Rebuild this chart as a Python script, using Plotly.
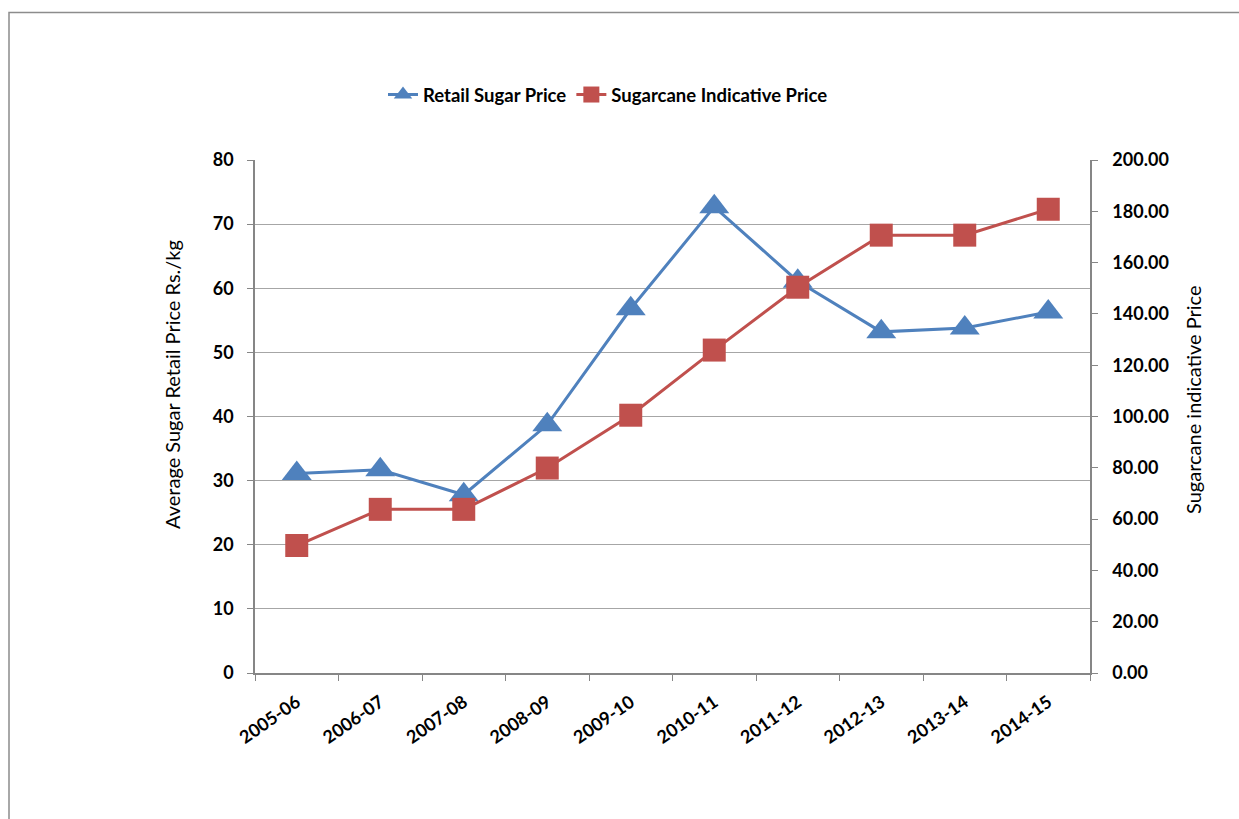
import plotly.graph_objects as go

years = ["2005-06", "2006-07", "2007-08", "2008-09", "2009-10",
         "2010-11", "2011-12", "2012-13", "2013-14", "2014-15"]
retail_sugar_price = [31.1, 31.7, 27.8, 38.7, 56.8, 72.7, 61.1, 53.2, 53.8, 56.3]
sugarcane_indicative_price = [49.7, 63.8, 63.8, 79.9, 100.5, 125.9, 150.4, 170.7, 170.7, 180.8]

left_title = "Average Sugar Retail Price Rs./kg"
right_title = "Sugarcane indicative Price"

W, H = 1239, 819
L, R, T, B = 255, 1090, 160, 673  # plot area in page pixels

FONT = "Lato"
BLUE = "#4F81BD"
REDC = "#C0504D"
AXIS = "#868686"
GRID = "#A6A6A6"

fig = go.Figure()
fig.add_trace(go.Scatter(
    x=years, y=retail_sugar_price, name="Retail Sugar Price",
    mode="lines+markers",
    line=dict(color=BLUE, width=3),
    marker=dict(symbol="triangle-up", size=26, color=BLUE),
))
fig.add_trace(go.Scatter(
    x=years, y=sugarcane_indicative_price, name="Sugarcane Indicative Price",
    mode="lines+markers", yaxis="y2",
    line=dict(color=REDC, width=3),
    marker=dict(symbol="square", size=23, color=REDC),
))

def px_x(p):
    return (p - L) / (R - L)

def px_y(p):
    return (B - p) / (B - T)

fig.add_shape(type="rect", xref="paper", yref="paper",
              x0=px_x(9), x1=px_x(1300), y0=px_y(900), y1=px_y(12.5),
              line=dict(color="#8C8C8C", width=1.5), fillcolor="rgba(0,0,0,0)")

fig.add_annotation(text=left_title, xref="paper", yref="paper",
                   x=px_x(172), y=px_y(385), xanchor="center", yanchor="middle",
                   textangle=-90, showarrow=False,
                   font=dict(family=FONT, size=20, color="#000000"))
fig.add_annotation(text=right_title, xref="paper", yref="paper",
                   x=px_x(1193), y=px_y(400), xanchor="center", yanchor="middle",
                   textangle=-90, showarrow=False,
                   font=dict(family=FONT, size=20, color="#000000"))

tickfont = dict(family=FONT, size=18, color="#000000", weight="bold")

fig.update_layout(
    width=W, height=H,
    margin=dict(l=L, r=W - R, t=T, b=H - B, pad=0),
    paper_bgcolor="white", plot_bgcolor="white",
    font=dict(family=FONT, color="#000000"),
    showlegend=True,
    legend=dict(orientation="h", x=px_x(608), xanchor="center",
                y=px_y(95), yanchor="middle",
                font=dict(family=FONT, size=18.5, color="#000000", weight="bold"),
                itemwidth=30, tracegroupgap=0),
    xaxis=dict(
        type="category", range=[-0.5, 9.5], tickson="boundaries",
        showline=True, linecolor=AXIS, linewidth=1.5,
        ticks="outside", ticklen=6, tickcolor=AXIS,
        showgrid=False, tickangle=-35, tickfont=tickfont,
        ticklabelstandoff=10, mirror=False,
    ),
    yaxis=dict(
        range=[0, 80], dtick=10, showline=True, linecolor=AXIS, linewidth=1.5,
        ticks="outside", ticklen=6, tickcolor=AXIS,
        showgrid=True, gridcolor=GRID, gridwidth=1,
        zeroline=False, tickfont=tickfont, ticklabelstandoff=10,
    ),
    yaxis2=dict(
        range=[0, 200], dtick=20, tickformat=".2f", overlaying="y", side="right",
        showline=True, linecolor=AXIS, linewidth=1.5,
        ticks="outside", ticklen=6, tickcolor=AXIS,
        showgrid=False, zeroline=False, tickfont=tickfont, ticklabelstandoff=11,
    ),
)

fig.write_html(
    "out.html",
    config={"displayModeBar": False},
    post_script="document.body.style.margin='0';document.body.style.overflow='hidden';",
)
